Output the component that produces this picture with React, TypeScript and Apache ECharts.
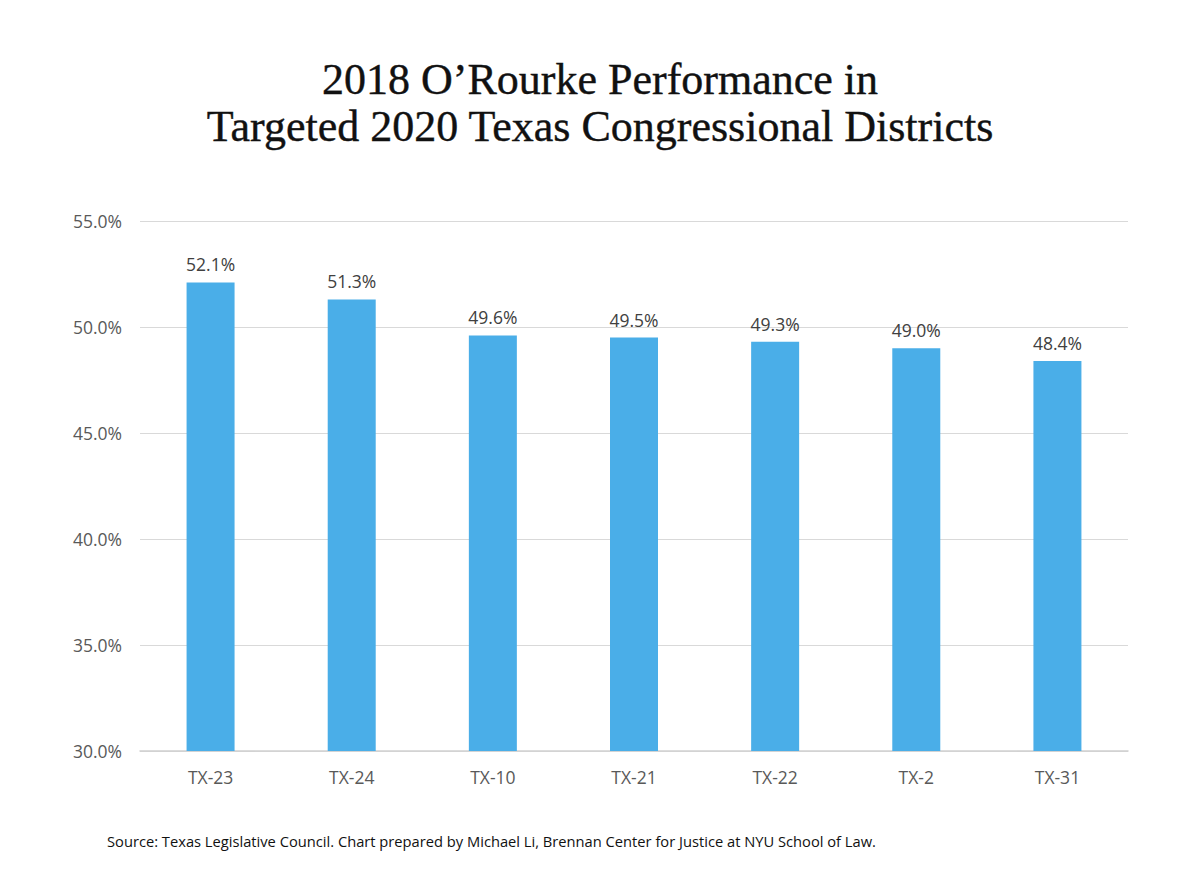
import React, { useEffect, useRef } from "react";
import * as echarts from "echarts";

const categories = ["TX-23", "TX-24", "TX-10", "TX-21", "TX-22", "TX-2", "TX-31"];
const values = [52.1, 51.3, 49.6, 49.5, 49.3, 49.0, 48.4];
const titleLines = ["2018 O\u2019Rourke Performance in", "Targeted 2020 Texas Congressional Districts"];
const sourceText = "Source: Texas Legislative Council. Chart prepared by Michael Li, Brennan Center for Justice at NYU School of Law.";

export default function App() {
  const ref = useRef<HTMLDivElement>(null);
  useEffect(() => {
    const chart = echarts.init(ref.current!, null, { renderer: "svg" });
    chart.setOption({
      animation: false,
      backgroundColor: "#ffffff",
      title: {
        text: titleLines.join("\n"),
        left: "center",
        top: 51,
        textStyle: {
          fontFamily: "Liberation Serif",
          fontSize: 44,
          fontWeight: "normal",
          color: "#111111",
          lineHeight: 47,
          textBorderColor: "#111111",
          textBorderWidth: 0.4,
        },
      },
      graphic: [
        {
          type: "text",
          left: 107,
          top: 833,
          style: {
            text: sourceText,
            fontFamily: "Open Sans",
            fontSize: 14.7,
            fill: "#111111",
          },
        },
      ],
      grid: { left: 140, right: 72, top: 221, bottom: 137, containLabel: false },
      xAxis: {
        type: "category",
        data: categories,
        axisTick: { show: false },
        axisLine: { lineStyle: { color: "#d0d0d0", width: 1.5 } },
        axisLabel: { color: "#595959", fontFamily: "Open Sans", fontSize: 17.5, margin: 17 },
      },
      yAxis: {
        type: "value",
        min: 30,
        max: 55,
        interval: 5,
        axisLine: { show: false },
        axisTick: { show: false },
        splitLine: { lineStyle: { color: "#d9d9d9", width: 1.2 } },
        axisLabel: {
          color: "#595959",
          fontFamily: "Open Sans",
          fontSize: 17.5,
          margin: 18,
          formatter: (v: number) => v.toFixed(1) + "%",
        },
      },
      series: [
        {
          type: "bar",
          data: values,
          barWidth: 48,
          itemStyle: { color: "#4aaee8" },
          label: {
            show: true,
            position: "top",
            distance: 9,
            color: "#404040",
            fontFamily: "Open Sans",
            fontSize: 17.5,
            formatter: (p: any) => Number(p.value).toFixed(1) + "%",
          },
        },
      ],
    });
    return () => chart.dispose();
  }, []);
  return (
    <div
      ref={ref}
      style={{ position: "absolute", left: 0, top: 0, width: 1200, height: 888 }}
    />
  );
}
